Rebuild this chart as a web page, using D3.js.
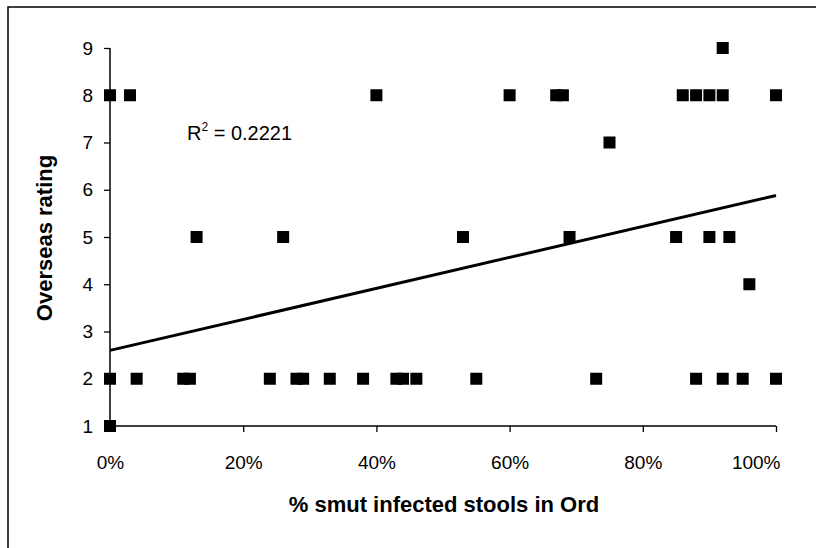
<!DOCTYPE html>
<html><head><meta charset="utf-8">
<script src="https://cdn.jsdelivr.net/npm/d3@7"></script>
<style>body{margin:0;background:#fff}svg{display:block}text{font-family:"Liberation Sans",Arial,sans-serif;fill:#000}</style>
</head><body>
<svg id="c" width="816" height="548"></svg>
<script>
// Data: smut infection (fraction) vs overseas rating
const infected = [0,0.03,0.40,0.60,0.67,0.68,0.86,0.88,0.90,0.92,1.00,
  0.92, 0.75,
  0.13,0.26,0.53,0.69,0.85,0.90,0.93,
  0.96,
  0,0.04,0.11,0.12,0.24,0.28,0.29,0.33,0.38,0.43,0.44,0.46,0.55,0.73,0.88,0.92,0.95,1.00,
  0];
const rating = [8,8,8,8,8,8,8,8,8,8,8,
  9, 7,
  5,5,5,5,5,5,5,
  4,
  2,2,2,2,2,2,2,2,2,2,2,2,2,2,2,2,2,2,
  1];
const xTicks = [0,0.2,0.4,0.6,0.8,1.0];
const yTicks = [1,2,3,4,5,6,7,8,9];
const trendIntercept = 2.6, trendSlope = 3.28;
const rSquared = "0.2221";

const svg = d3.select("#c");
const x = d3.scaleLinear().domain([0,1]).range([110,776]);
const y = d3.scaleLinear().domain([1,9]).range([426,48]);

svg.append("rect").attr("x",8).attr("y",7).attr("width",900).attr("height",600)
  .attr("fill","none").attr("stroke","#000").attr("stroke-width",1.5);

const ax = svg.append("g").attr("transform","translate(0,426)")
  .call(d3.axisBottom(x).tickValues(xTicks).tickFormat(d3.format(".0%")).tickSize(6).tickPadding(24));
const ay = svg.append("g").attr("transform","translate(110,0)")
  .call(d3.axisLeft(y).tickValues(yTicks).tickSize(6).tickPadding(11));
[ax,ay].forEach(g=>{
  g.select(".domain").attr("stroke","#000").attr("stroke-width",1.5);
  g.selectAll(".tick line").attr("stroke","#000").attr("stroke-width",1.3);
  g.selectAll("text").attr("font-size",19).attr("font-family","Liberation Sans, Arial, sans-serif");
});
ax.select(".domain").attr("d","M110,0H776");
ay.select(".domain").attr("d","M0,48V426");
// last x label sits inside the frame, right-aligned
ax.selectAll(".tick text").filter(d=>d===1).attr("text-anchor","end").attr("dx",4);

svg.append("line")
  .attr("x1",x(0)).attr("y1",y(trendIntercept))
  .attr("x2",x(1)).attr("y2",y(trendIntercept+trendSlope))
  .attr("stroke","#000").attr("stroke-width",3);

const s = 12;
svg.append("g").selectAll("rect").data(infected.map((d,i)=>[d,rating[i]])).join("rect")
  .attr("x",d=>x(d[0])-s/2).attr("y",d=>y(d[1])-s/2).attr("width",s).attr("height",s).attr("fill","#000");

const rt = svg.append("text").attr("x",187).attr("y",140).attr("font-size",20);
rt.append("tspan").text("R");
rt.append("tspan").attr("font-size",12).attr("dy",-9).text("2");
rt.append("tspan").attr("dy",9).text(" = "+rSquared);

svg.append("text").attr("x",444).attr("y",512).attr("text-anchor","middle")
  .attr("font-size",22).attr("font-weight","bold").text("% smut infected stools in Ord");
svg.append("text").attr("transform","translate(52,238) rotate(-90)").attr("text-anchor","middle")
  .attr("font-size",22).attr("font-weight","bold").text("Overseas rating");
</script>
</body></html>
